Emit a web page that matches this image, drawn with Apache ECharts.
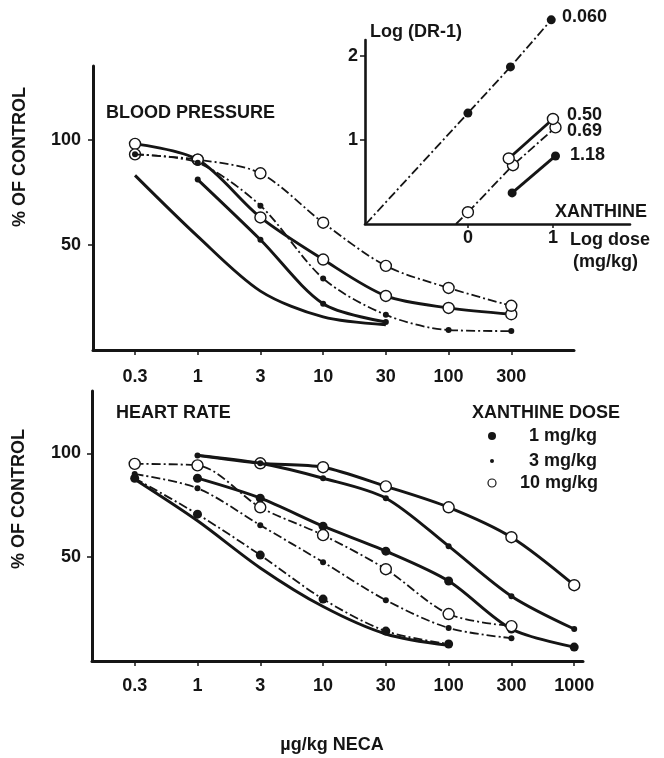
<!DOCTYPE html>
<html><head><meta charset="utf-8">
<script src="https://cdn.jsdelivr.net/npm/echarts@6/dist/echarts.min.js"></script>
<style>html,body{margin:0;padding:0;background:#fff}#c{width:664px;height:758px}</style>
</head><body><div id="c"></div>
<script>
// ---- tick labels (ordinal NECA dose axis, µg/kg) ----
const doseLabelsBP = ['0.3','1','3','10','30','100','300'];
const doseLabelsHR = ['0.3','1','3','10','30','100','300','1000'];

// ---- Blood pressure, % of control (index = dose position) ----
const bp_ctrl      = [83, 54, 28, 15.7, 12];
const bp_x3_solid  = [null, 81, 52.4, 22, 13.3];
const bp_x3_dash   = [93, 89, 68.6, 34, 16.7, 9.5, 9];
const bp_x10_solid = [98, 90.5, 63, 43, 25.7, 20, 17];
const bp_x10_dash  = [93, 90.5, 84, 60.5, 40, 29.5, 21];

// ---- Heart rate, % of control ----
const hr_ctrl      = [87.5, 67.5, 44.8, 26.2, 13, 7.5];
const hr_x1_solid  = [null, 88, 78.4, 64.9, 52.9, 38.5, 15.4, 6.7];
const hr_x1_dash   = [88, 70.7, 51, 29.8, 14.4, 8.2];
const hr_x3_solid  = [null, 99, 95.2, 88, 78.4, 55.3, 31.2, 15.4];
const hr_x3_dash   = [90, 83.2, 65.4, 47.6, 29.3, 15.9, 11];
const hr_x10_solid = [null, 99, 95.2, 93.3, 84.1, 74, 59.6, 36.5];
const hr_x10_dash  = [94.9, 94.2, 74, 60.6, 44.2, 22.6, 16.8];

// ---- Inset: Log(DR-1) vs log xanthine dose ----
const ins060_x = [0, 0.5, 0.98];   const ins060_y = [1.32, 1.87, 2.43]; const ins060_x0 = -1.2;
const ins069_x = [0, 0.53, 1.03];  const ins069_y = [0.14, 0.70, 1.15]; const ins069_x0 = -0.14;
const ins050_x = [0.48, 1.0];      const ins050_y = [0.78, 1.25];
const ins118_x = [0.52, 1.03];     const ins118_y = [0.37, 0.81];
const insLabels = ['0.060', '0.50', '0.69', '1.18'];

const FF = '"Liberation Sans", Arial, Helvetica, sans-serif';
const INK = '#151515';

function pts(arr, xs) {
  const out = [];
  arr.forEach((v, i) => { if (v != null) out.push([xs ? xs[i] : i, v]); });
  return out;
}
const SYM = {
  filled: { symbol: 'circle', symbolSize: 9, itemStyle: { color: INK } },
  open:   { symbol: 'circle', symbolSize: 11, itemStyle: { color: '#fff', borderColor: INK, borderWidth: 1.4 } },
  star:   { symbol: 'circle', symbolSize: 6, itemStyle: { color: INK } },
  none:   { symbol: 'none' }
};
function mk(data, grid, style, sym, z, smooth) {
  const s = Object.assign({
    type: 'line', xAxisIndex: grid, yAxisIndex: grid, data: data, z: z,
    smooth: smooth === undefined ? 0.3 : smooth, animation: false, silent: true, clip: false,
    lineStyle: style === 'solid' ? { color: INK, width: 2.9 } : { color: INK, width: 1.8, type: [9, 3, 2, 3] }
  }, SYM[sym]);
  if (sym === 'none') s.showSymbol = false;
  return s;
}

const hr10s = pts(hr_x10_solid);
hr10s[0] = { value: hr10s[0], symbol: 'none' };

const series = [
  // blood pressure
  mk(pts(bp_ctrl), 0, 'solid', 'none', 2),
  mk(pts(bp_x10_solid), 0, 'solid', 'open', 4),
  mk(pts(bp_x10_dash), 0, 'dash', 'open', 4),
  mk(pts(bp_x3_solid), 0, 'solid', 'star', 5),
  mk(pts(bp_x3_dash), 0, 'dash', 'star', 5),
  // heart rate
  mk(pts(hr_ctrl), 1, 'solid', 'none', 2),
  mk(pts(hr_x1_solid), 1, 'solid', 'filled', 3),
  mk(pts(hr_x1_dash), 1, 'dash', 'filled', 3),
  mk(hr10s, 1, 'solid', 'open', 4),
  mk(pts(hr_x10_dash), 1, 'dash', 'open', 4),
  mk(pts(hr_x3_solid), 1, 'solid', 'star', 5),
  mk(pts(hr_x3_dash), 1, 'dash', 'star', 5),
  // inset
  mk([{ value: [ins060_x0, 0], symbol: 'none' }].concat(pts(ins060_y, ins060_x)), 2, 'dash', 'filled', 3, false),
  mk([{ value: [ins069_x0, 0], symbol: 'none' }].concat(pts(ins069_y, ins069_x)), 2, 'dash', 'open', 4, false),
  mk(pts(ins050_y, ins050_x), 2, 'solid', 'open', 4, false),
  mk(pts(ins118_y, ins118_x), 2, 'solid', 'filled', 3, false)
];

const lab = (extra) => Object.assign({ color: INK, fontFamily: FF, fontWeight: 'bold', fontSize: 18 }, extra);
function xAx(grid, min, max, labels, margin, w) {
  const vals = labels.map((_, i) => i);
  return {
    gridIndex: grid, type: 'value', min: min, max: max,
    axisLine: { show: true, onZero: false, lineStyle: { color: INK, width: w } },
    axisTick: { show: true, customValues: vals, length: 5, lineStyle: { color: INK, width: 1.5 } },
    axisLabel: lab({ customValues: vals, margin: margin, formatter: v => labels[Math.round(v)] }),
    splitLine: { show: false }
  };
}
function yAx(grid, min, max, vals, margin, w) {
  return {
    gridIndex: grid, type: 'value', min: min, max: max,
    axisLine: { show: true, onZero: false, lineStyle: { color: INK, width: w } },
    axisTick: { show: true, customValues: vals, length: 5, lineStyle: { color: INK, width: 1.5 } },
    axisLabel: lab({ customValues: vals, margin: margin }),
    splitLine: { show: false }
  };
}

const T = (text, x, y, extra) => ({
  type: 'text', x: x, y: y, silent: true, z: 20,
  style: Object.assign({ text: text, fill: INK, font: 'bold 18px ' + FF, textAlign: 'left', textVerticalAlign: 'middle' }, extra || {})
});

const option = {
  backgroundColor: '#fff',
  animation: false,
  grid: [
    { left: 93, top: 66, width: 481, height: 284 },
    { left: 92, top: 391, width: 491, height: 270 },
    { left: 365, top: 40, width: 265, height: 184 }
  ],
  xAxis: [
    xAx(0, -0.67, 7.0, doseLabelsBP, 18, 3),
    xAx(1, -0.68, 7.14, doseLabelsHR, 16, 3),
    {
      gridIndex: 2, type: 'value', min: -1.21, max: 1.906,
      axisLine: { show: true, onZero: false, lineStyle: { color: INK, width: 2.6 } },
      axisTick: { show: true, customValues: [0, 1], length: 4, lineStyle: { color: INK, width: 1.5 } },
      axisLabel: lab({ customValues: [0, 1], margin: 5 }),
      splitLine: { show: false }
    }
  ],
  yAxis: [
    yAx(0, 0, 135, [50, 100], 12, 3),
    yAx(1, 0, 130, [50, 100], 11, 3),
    yAx(2, 0, 2.19, [1, 2], 7, 2.6)
  ],
  series: series,
  graphic: [
    T('% OF CONTROL', 20, 157, { textAlign: 'center' }),
    T('% OF CONTROL', 19, 499, { textAlign: 'center' }),
    T('BLOOD PRESSURE', 106, 113),
    T('HEART RATE', 116, 413),
    T('XANTHINE DOSE', 472, 413),
    T('1 mg/kg', 597, 436, { textAlign: 'right' }),
    T('3 mg/kg', 597, 461, { textAlign: 'right' }),
    T('10 mg/kg', 598, 483, { textAlign: 'right' }),
    T('µg/kg NECA', 332, 745, { textAlign: 'center' }),
    T('Log (DR-1)', 370, 32),
    T('XANTHINE', 555, 212),
    T('Log dose', 570, 240),
    T('(mg/kg)', 573, 262),
    T(insLabels[0], 562, 17),
    T(insLabels[1], 567, 115),
    T(insLabels[2], 567, 131),
    T(insLabels[3], 570, 155),
    { type: 'circle', shape: { cx: 492, cy: 436, r: 4 }, style: { fill: INK }, silent: true },
    { type: 'circle', shape: { cx: 492, cy: 461, r: 2 }, style: { fill: INK }, silent: true },
    { type: 'circle', shape: { cx: 492, cy: 483, r: 4 }, style: { fill: '#fff', stroke: INK, lineWidth: 1.2 }, silent: true }
  ]
};
// rotate the y-axis titles
option.graphic[0].rotation = Math.PI / 2;
option.graphic[1].rotation = Math.PI / 2;

const chart = echarts.init(document.getElementById('c'), null, { renderer: 'canvas' });
chart.setOption(option);
</script>
</body></html>
